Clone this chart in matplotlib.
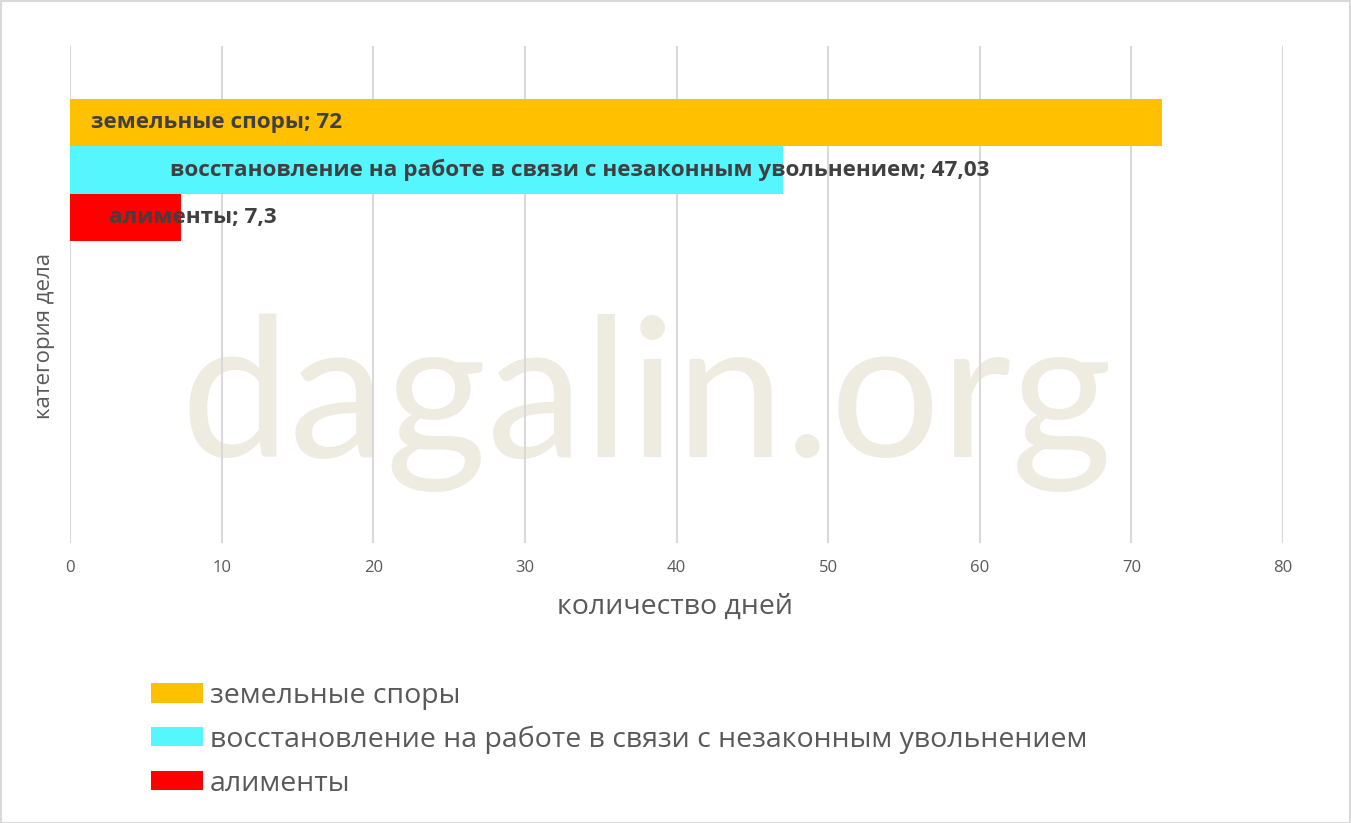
import matplotlib.pyplot as plt
from matplotlib.patches import Patch, Rectangle

categories = ['земельные споры',
              'восстановление на работе в связи с незаконным увольнением',
              'алименты']
days = [72, 47.03, 7.3]
value_labels = ['72', '47,03', '7,3']
colors = ['#FFC000', '#55F6FE', '#FF0000']
label_x = [1.4, 6.6, 2.6]   # where each data label starts (in days)
x_ticks = [0, 10, 20, 30, 40, 50, 60, 70, 80]

W, H = 1351, 823
fig = plt.figure(figsize=(W / 100, H / 100), dpi=100)
fig.patches.append(Rectangle((0.5 / W, 0.5 / H), 1 - 1.5 / W, 1 - 1.5 / H,
                             transform=fig.transFigure, fill=False,
                             edgecolor='#D9D9D9', linewidth=1.5))

# plot area in pixels: x 70..1283, y 46..543
ax = fig.add_axes([70 / W, 1 - 543 / H, (1283 - 70) / W, (543 - 46) / H])
ax.set_zorder(1)
ax.patch.set_alpha(0)

fig.text(647 / W, 1 - 457 / H, 'dagalin.org', fontsize=140, family='Lato',
         color='#EEEBE1', ha='center', va='baseline', zorder=0)

ypos = list(range(len(categories)))
ax.barh(ypos, days, height=1.0, color=colors, zorder=2)
for y, v, lab, c, lx in zip(ypos, days, value_labels, categories, label_x):
    ax.text(lx, y, f'{c}; {lab}', fontsize=16.2, fontweight='bold',
            family='Open Sans', color='#404040', va='center', ha='left',
            zorder=3)

ax.set_xlim(0, 80)
ax.set_ylim(8.85, -1.61)
ax.set_xticks(x_ticks)
ax.set_yticks([])
ax.grid(axis='x', color='#D9D9D9', linewidth=1.5, zorder=1)
ax.set_axisbelow(True)
for s in ax.spines.values():
    s.set_visible(False)
ax.tick_params(axis='x', length=0, labelsize=12, labelcolor='#595959',
               pad=12)
for t in ax.get_xticklabels():
    t.set_family('Open Sans')

fig.text(675 / W, 1 - 607 / H, 'количество дней', fontsize=20.5,
         family='Open Sans', color='#595959', ha='center', va='center')
fig.text(45 / W, 1 - 336 / H, 'категория дела', fontsize=16,
         family='Open Sans', color='#595959', ha='center', va='center',
         rotation=90)

handles = [Patch(facecolor=c) for c in colors]
fig.legend(handles, categories, loc='upper left',
           bbox_to_anchor=(151 / W, 1 - 682 / H), frameon=False,
           borderpad=0, borderaxespad=0,
           prop={'family': 'Open Sans', 'size': 20.5}, labelcolor='#595959',
           handlelength=1.82, handleheight=0.65, handletextpad=0.25,
           labelspacing=0.55)

fig.savefig('out.png', dpi=100)
